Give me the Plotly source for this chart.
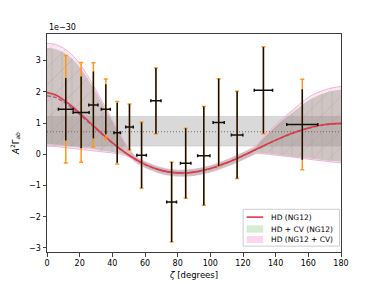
import plotly.graph_objects as go

# ---------------- data (units of 1e-30) ----------------
zeta_bins = [11.5, 20.9, 28.4, 36.0, 43.0, 50.5, 57.9, 66.7, 76.3, 84.9, 96.0, 105.1, 116.4, 132.5, 156.3]
rho_bins = [1.44, 1.34, 1.58, 1.44, 0.69, 0.87, -0.03, 1.71, -1.53, -0.29, -0.05, 1.02, 0.62, 2.05, 0.95]
err_noise = [1.00, 1.15, 1.07, 0.80, 0.96, 0.73, 1.05, 1.05, 1.28, 1.12, 1.58, 1.40, 1.40, 1.38, 1.13]
err_total = [1.72, 1.60, 1.35, 0.97, 1.00, 0.74, 1.06, 1.05, 1.28, 1.12, 1.58, 1.40, 1.40, 1.39, 1.45]
zeta_halfwidth = [4.5, 4.9, 2.8, 2.75, 2.0, 2.3, 2.9, 3.1, 3.0, 3.2, 3.75, 3.4, 3.5, 5.6, 9.5]

zeta_curve = [0, 5, 10, 15, 20, 30, 40, 50, 60, 70, 80, 90, 100, 110, 120, 130, 140, 150, 160, 170, 180]
hd_ng12 = [1.975, 1.902, 1.748, 1.547, 1.320, 0.836, 0.372, -0.024, -0.325, -0.517, -0.597, -0.572,
           -0.458, -0.274, -0.044, 0.206, 0.452, 0.670, 0.841, 0.950, 0.988]
hd_median = [1.87, 1.82, 1.68, 1.49, 1.27, 0.81, 0.36, -0.03, -0.33, -0.52, -0.60, -0.575,
             -0.46, -0.275, -0.045, 0.20, 0.445, 0.66, 0.83, 0.94, 0.978]

zeta_band = [0, 5, 10, 15, 20, 25, 30, 35, 40, 45, 50, 55, 60, 70, 80, 90, 100, 110, 120, 125, 128,
             130, 135, 140, 145, 150, 155, 160, 165, 170, 175, 180]
band_upper = [3.55, 3.52, 3.40, 3.20, 2.90, 2.50, 2.05, 1.58, 1.10, 0.62, 0.18, -0.10, -0.24, -0.43,
              -0.51, -0.48, -0.37, -0.18, 0.05, 0.18, 0.28, 0.40, 0.68, 0.95, 1.18, 1.40, 1.62, 1.82,
              1.96, 2.06, 2.13, 2.17]
band_lower = [0.27, 0.25, 0.22, 0.19, 0.16, 0.13, 0.10, 0.07, 0.04, 0.00, -0.08, -0.28, -0.42, -0.62,
              -0.70, -0.68, -0.57, -0.39, -0.17, -0.05, 0.02, 0.02, 0.00, -0.03, -0.06, -0.09, -0.12,
              -0.16, -0.19, -0.22, -0.25, -0.28]
inner_upper = [3.40, 3.37, 3.26, 3.07, 2.79, 2.41, 1.98, 1.52, 1.06, 0.59, 0.16, -0.11, -0.25, -0.44,
               -0.52, -0.49, -0.38, -0.19, 0.04, 0.16, 0.25, 0.36, 0.63, 0.89, 1.11, 1.32, 1.53, 1.72,
               1.86, 1.96, 2.03, 2.07]
inner_lower = [0.33, 0.31, 0.28, 0.25, 0.21, 0.18, 0.14, 0.10, 0.07, 0.03, -0.06, -0.26, -0.41, -0.61,
               -0.69, -0.67, -0.56, -0.38, -0.16, -0.04, 0.04, 0.04, 0.02, -0.01, -0.04, -0.07, -0.10,
               -0.13, -0.16, -0.19, -0.22, -0.24]
zeta_narrow = zeta_curve
narrow_upper = [2.05, 1.98, 1.82, 1.62, 1.39, 0.90, 0.44, 0.04, -0.26, -0.45, -0.53, -0.505, -0.39,
                -0.205, 0.025, 0.275, 0.52, 0.74, 0.91, 1.02, 1.058]
narrow_lower = [1.90, 1.83, 1.68, 1.48, 1.25, 0.77, 0.30, -0.09, -0.39, -0.585, -0.665, -0.64, -0.525,
                -0.345, -0.115, 0.135, 0.38, 0.60, 0.77, 0.88, 0.918]

uncorr_mean = 0.72
uncorr_low = 0.26
uncorr_high = 1.21

x_ticks = [0, 20, 40, 60, 80, 100, 120, 140, 160, 180]
y_ticks = [-3, -2, -1, 0, 1, 2, 3]
y_ticklabels = ["\u22123", "\u22122", "\u22121", "0", "1", "2", "3"]

legend_labels = ["HD (NG12)", "HD + CV (NG12)", "HD (NG12 + CV)"]

FONT = "DejaVu Sans"
RED = "rgb(232,50,80)"
GREEN_PATCH = "rgb(214,234,212)"
PINK_PATCH = "rgb(252,214,236)"

fig = go.Figure()

# horizontal uncorrelated band
fig.add_trace(go.Scatter(x=[0, 180], y=[uncorr_low, uncorr_low], mode="lines",
                         line=dict(color="rgba(120,120,120,0.35)", width=0.6), showlegend=False,
                         hoverinfo="skip"))
fig.add_trace(go.Scatter(x=[0, 180], y=[uncorr_high, uncorr_high], mode="lines",
                         line=dict(color="rgba(120,120,120,0.35)", width=0.6), fill="tonexty",
                         fillcolor="rgba(128,128,128,0.3)", showlegend=False, hoverinfo="skip"))

# pink wide band
fig.add_trace(go.Scatter(x=zeta_band, y=band_lower, mode="lines",
                         line=dict(color="rgba(245,170,215,0.9)", width=1, shape="spline"),
                         showlegend=False, hoverinfo="skip"))
fig.add_trace(go.Scatter(x=zeta_band, y=band_upper, mode="lines",
                         line=dict(color="rgba(245,170,215,0.9)", width=1, shape="spline"),
                         fill="tonexty", fillcolor="rgba(248,180,220,0.3)",
                         fillpattern=dict(shape="/", size=12, solidity=0.08, fgcolor="rgba(215,120,165,0.55)",
                                          bgcolor="rgba(248,180,220,0.3)"),
                         showlegend=False, hoverinfo="skip"))
# inner (CV) band
fig.add_trace(go.Scatter(x=zeta_band, y=inner_lower, mode="lines",
                         line=dict(color="rgba(140,130,120,0.0)", width=0, shape="spline"),
                         showlegend=False, hoverinfo="skip"))
fig.add_trace(go.Scatter(x=zeta_band, y=inner_upper, mode="lines",
                         line=dict(color="rgba(140,130,120,0.0)", width=0, shape="spline"),
                         fill="tonexty", fillcolor="rgba(105,115,85,0.3)",
                         fillpattern=dict(shape="|", size=10, solidity=0.08, fgcolor="rgba(110,165,110,0.6)",
                                          bgcolor="rgba(105,115,85,0.3)"),
                         showlegend=False, hoverinfo="skip"))
# narrow green band
fig.add_trace(go.Scatter(x=zeta_narrow, y=narrow_lower, mode="lines", line=dict(width=0, shape="spline"),
                         showlegend=False, hoverinfo="skip"))
fig.add_trace(go.Scatter(x=zeta_narrow, y=narrow_upper, mode="lines", line=dict(width=0, shape="spline"),
                         fill="tonexty", fillcolor="rgba(150,210,150,0.35)", showlegend=False, hoverinfo="skip"))

# dotted mean line
fig.add_trace(go.Scatter(x=[0, 180], y=[uncorr_mean, uncorr_mean], mode="lines",
                         line=dict(color="rgba(100,100,100,0.9)", width=1, dash="1px,2px"), showlegend=False,
                         hoverinfo="skip"))

# curves
fig.add_trace(go.Scatter(x=zeta_curve, y=hd_median, mode="lines",
                         line=dict(color="rgb(170,80,150)", width=1.3, dash="4px,2px", shape="spline"),
                         showlegend=False, hoverinfo="skip"))
fig.add_trace(go.Scatter(x=zeta_curve, y=hd_ng12, mode="lines", name=legend_labels[0],
                         line=dict(color=RED, width=1.6, shape="spline"), showlegend=False))

# error bars: total (orange) then noise (black) with x widths
fig.add_trace(go.Scatter(x=zeta_bins, y=rho_bins, mode="markers", marker=dict(size=1, opacity=0),
                         error_y=dict(type="data", array=err_total, color="rgb(255,150,30)", thickness=1.5, width=2),
                         showlegend=False, hoverinfo="skip"))
fig.add_trace(go.Scatter(x=zeta_bins, y=rho_bins, mode="markers", marker=dict(size=1, opacity=0),
                         error_y=dict(type="data", array=err_noise, color="rgb(20,15,10)", thickness=1.5, width=0),
                         error_x=dict(type="data", array=zeta_halfwidth, color="rgb(20,15,10)", thickness=1.5, width=1.5),
                         showlegend=False, hoverinfo="skip"))

# ---- manual legend (matplotlib style) ----
shapes = [
    dict(type="rect", xref="paper", yref="paper", x0=0.667, x1=0.995, y0=0.027, y1=0.196,
         fillcolor="rgba(255,255,255,0.85)", line=dict(color="rgb(205,205,205)", width=1), layer="above"),
    dict(type="line", xref="paper", yref="paper", x0=0.679, x1=0.7355, y0=0.160, y1=0.160,
         line=dict(color=RED, width=1.6), layer="above"),
    dict(type="rect", xref="paper", yref="paper", x0=0.679, x1=0.7355, y0=0.089, y1=0.122,
         fillcolor=GREEN_PATCH, line=dict(width=0), layer="above"),
    dict(type="rect", xref="paper", yref="paper", x0=0.679, x1=0.7355, y0=0.041, y1=0.073,
         fillcolor=PINK_PATCH, line=dict(width=0), layer="above"),
]
annotations = [
    dict(text="1e\u221230", xref="paper", yref="paper", x=0, y=1.0, xanchor="left",
         yanchor="bottom", showarrow=False, font=dict(size=8, family=FONT)),
]
for lab, yy in zip(legend_labels, [0.160, 0.1055, 0.057]):
    annotations.append(dict(text=lab, xref="paper", yref="paper", x=0.755, y=yy, xanchor="left",
                            yanchor="middle", showarrow=False, font=dict(size=7.5, family=FONT)))

fig.update_layout(
    width=379, height=284,
    margin=dict(l=47, r=38, t=34, b=32),
    paper_bgcolor="white", plot_bgcolor="white",
    font=dict(family=FONT, size=8, color="black"),
    showlegend=False,
    xaxis=dict(range=[0, 180], tickvals=x_ticks, ticks="outside", ticklen=3.5, tickwidth=0.8,
               showline=True, linecolor="rgb(60,60,60)", linewidth=1, mirror=True, showgrid=False,
               zeroline=False, tickfont=dict(size=8), automargin=False,
               title=dict(text="<i>ζ</i> [degrees]", font=dict(size=8.5), standoff=4)),
    yaxis=dict(range=[-3.13, 3.85], tickvals=y_ticks, ticktext=y_ticklabels, ticks="outside", ticklen=3.5,
               tickwidth=0.8, showline=True, linecolor="rgb(60,60,60)", linewidth=1, mirror=True,
               showgrid=False, zeroline=False, tickfont=dict(size=8), automargin=False,
               title=dict(text="<i>A</i><sup>2</sup>Γ<sub><i>ab</i></sub>", font=dict(size=8.5), standoff=8)),
    shapes=shapes,
    annotations=annotations,
)

fig.write_html("out.html", config={"displayModeBar": False},
               post_script="document.body.style.margin='0';document.body.style.padding='0';")
